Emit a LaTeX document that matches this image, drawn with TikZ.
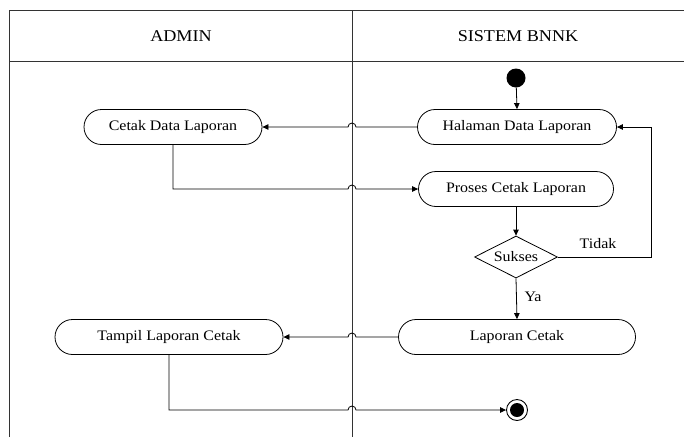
\documentclass[tikz,border=0pt]{standalone}
\usepackage{fontspec}
\setmainfont{Liberation Serif}[FakeStretch=1.1]
\usetikzlibrary{shapes.geometric,shapes.misc,arrows.meta,calc}
\begin{document}
\begin{tikzpicture}[x=1pt,y=-1pt,
  frame/.style={draw=black!80,line width=1pt},
  act/.style={draw=black,line width=0.8pt,rounded rectangle,minimum height=35pt,inner sep=0pt,font=\fontsize{14.5}{16}\selectfont},
  lane/.style={font=\fontsize{16.5}{18}\selectfont},
  conn/.style={draw=black,line width=0.8pt},
  arr/.style={conn,-{Triangle[length=6pt,width=5.5pt]}},
  lbl/.style={font=\fontsize{14.5}{16}\selectfont,inner sep=0pt}]
\useasboundingbox (0,0) rectangle (684,437);
% frame
\coordinate (tl) at (9,10);
\coordinate (div) at (352,10);
\draw[frame] (9,437) -- (tl) -- (684,10);
\draw[frame] (9,61) -- (684,61);
\draw[frame] (div) -- (352,437);
\node[lane] (admin) at (181,36) {ADMIN};
\node[lane] (sistem) at (518,36) {SISTEM BNNK};
% nodes
\node[circle,fill=black,minimum size=19pt,inner sep=0pt] (start) at (516,78) {};
\node[act,minimum width=199pt] (hal) at (517,127) {Halaman Data Laporan};
\node[act,minimum width=178pt] (cetak) at (173,127) {Cetak Data Laporan};
\node[act,minimum width=195pt] (proses) at (516,189) {Proses Cetak Laporan};
\node[diamond,draw=black,line width=0.8pt,minimum width=83pt,minimum height=42pt,inner sep=0pt,aspect=2,font=\fontsize{14.5}{16}\selectfont] (sukses) at (516,257) {Sukses};
\node[act,minimum width=237pt] (lapc) at (517,337) {Laporan Cetak};
\node[act,minimum width=228pt] (tampil) at (169,337) {Tampil Laporan Cetak};
\node[circle,draw=black,line width=0.9pt,minimum size=21pt,inner sep=0pt] (end) at (517,410) {};
\node[circle,fill=black,minimum size=14pt,inner sep=0pt] at (end) {};
\node[lbl] (tidak) at (598,244) {Tidak};
\node[lbl] (ya) at (533,297) {Ya};
% connectors
\draw[arr] (start) -- (hal.north);
\draw[arr] (hal.west) -- ($(hal.west -| div)+(4,0)$) arc[start angle=0,end angle=-180,radius=4] -- (cetak.east);
\coordinate (c1) at (cetak.south |- proses.west);
\draw[arr] (cetak.south) -- (c1) -- ($(c1 -| div)+(-4,0)$) arc[start angle=180,end angle=360,radius=4] -- (proses.west);
\draw[arr] (proses.south) -- (sukses.north);
\coordinate (r1) at (651,257);
\draw[arr] (sukses.east) -- (r1) -- (r1 |- hal.east) -- (hal.east);
\draw[arr] (sukses.south) -- (lapc.north);
\draw[arr] (lapc.west) -- ($(lapc.west -| div)+(4,0)$) arc[start angle=0,end angle=-180,radius=4] -- (tampil.east);
\coordinate (c2) at (tampil.south |- end);
\draw[arr] (tampil.south) -- (c2) -- ($(c2 -| div)+(-4,0)$) arc[start angle=180,end angle=360,radius=4] -- (end.west);
\end{tikzpicture}
\end{document}
